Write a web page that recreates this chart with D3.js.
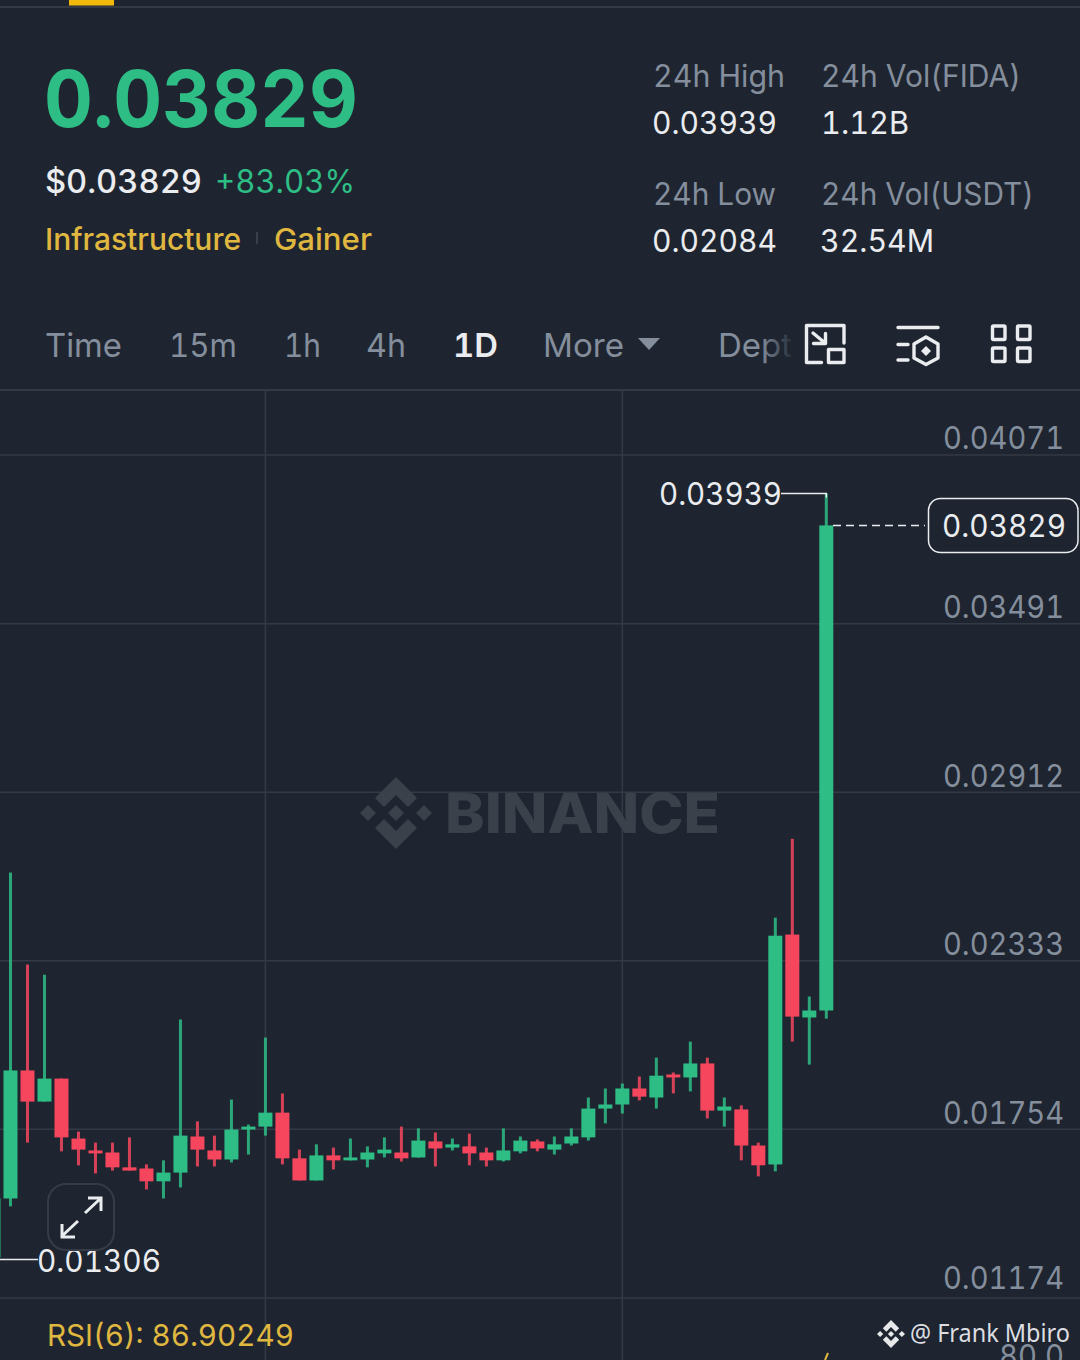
<!DOCTYPE html>
<html><head><meta charset="utf-8">
<script src="https://cdn.jsdelivr.net/npm/d3@7"></script>
<style>html,body{margin:0;padding:0;background:#1e2530}svg{display:block}text{font-family:Inter,sans-serif;font-variant-numeric:tabular-nums}</style>
</head><body><svg id="c" width="1080" height="1360"></svg>
<script>
const opens  = [.01314,.01516,.01956,.01849,.01928,.01722,.01681,.01674,.01623,.01619,.01575,.01605,.01729,.01681,.01650,.01753,.01763,.01811,.01654,.01578,.01664,.01647,.01650,.01671,.01674,.01657,.01712,.01691,.01695,.01674,.01647,.01678,.01712,.01684,.01705,.01726,.01825,.01839,.01894,.01863,.01942,.01932,.01980,.01818,.01822,.01698,.01633,.02423,.02138,.02162];
const closes = [.01516,.01956,.01849,.01928,.01726,.01684,.01671,.01623,.01612,.01575,.01605,.01732,.01684,.01650,.01753,.01763,.01811,.01654,.01578,.01664,.01647,.01657,.01674,.01684,.01654,.01715,.01688,.01702,.01671,.01647,.01681,.01715,.01688,.01702,.01729,.01825,.01839,.01894,.01866,.01938,.01932,.01980,.01818,.01832,.01698,.01630,.02419,.02141,.02162,.03829];
const highs  = [.01516,.02636,.02320,.02285,.01928,.01746,.01708,.01708,.01726,.01633,.01647,.02131,.01781,.01732,.01856,.01770,.02069,.01877,.01684,.01702,.01691,.01722,.01695,.01726,.01763,.01757,.01743,.01722,.01739,.01691,.01757,.01729,.01719,.01729,.01757,.01863,.01894,.01911,.01935,.02000,.01949,.02055,.02000,.01863,.01836,.01708,.02481,.02752,.02210,.03939];
const lows   = [.01306,.01489,.01708,.01849,.01678,.01630,.01602,.01612,.01612,.01547,.01516,.01554,.01626,.01626,.01640,.01667,.01732,.01633,.01578,.01578,.01616,.01647,.01623,.01657,.01643,.01657,.01626,.01681,.01630,.01626,.01643,.01671,.01678,.01667,.01698,.01715,.01774,.01808,.01853,.01825,.01877,.01884,.01791,.01763,.01647,.01592,.01609,.02055,.01976,.02134];
const yTicks = [.04071,.03491,.02912,.02333,.01754,.01174];
const xGrid  = [16,37];
const tabs   = ["Time","15m","1h","4h","1D","More"];
const tabX   = [45,169,284,366,453,543];
const tabW   = [77,68,37,40,45,81];

const GREEN="#2ebd85",RED="#f6465d",GRID="#333a45",GREY="#848e9c",WHITE="#eaecef",YEL="#e0b840",BG="#1e2530";
const svg=d3.select("#c");
svg.append("rect").attr("width",1080).attr("height",1360).attr("fill",BG);
const defs=svg.append("defs");
const g=defs.append("linearGradient").attr("id","fade").attr("gradientUnits","userSpaceOnUse").attr("x1",718).attr("x2",795).attr("y1",0).attr("y2",0);
g.append("stop").attr("offset","0").attr("stop-color",GREY);
g.append("stop").attr("offset","0.55").attr("stop-color",GREY);
g.append("stop").attr("offset","1").attr("stop-color",BG);

const x=d3.scaleLinear().domain([0,49]).range([-6.5,826.3]);
const y=d3.scaleLinear().domain([.01174,.04071]).range([1298,455]);
const T=(s,px,py,size,fill,weight,w)=>{const t=svg.append("text").text(s).attr("x",px).attr("y",py).attr("font-size",size).attr("fill",fill).attr("font-weight",weight||400);if(w)t.attr("textLength",w).attr("lengthAdjust","spacingAndGlyphs");return t;};

// frame lines
svg.append("line").attr("x1",0).attr("x2",1080).attr("y1",7).attr("y2",7).attr("stroke",GRID).attr("stroke-width",2);
svg.append("rect").attr("x",69).attr("y",0).attr("width",45).attr("height",5.5).attr("fill","#f0b90b");
svg.append("line").attr("x1",0).attr("x2",1080).attr("y1",390).attr("y2",390).attr("stroke",GRID).attr("stroke-width",2);

// header
T("0.03829",44,127,78,GREEN,700,314);
T("$0.03829",45,193,32,WHITE,500,157);
T("+83.03%",215,193,32,GREEN,400,140);
T("Infrastructure",45,250,30,YEL,500,196);
svg.append("rect").attr("x",256).attr("y",232).attr("width",2).attr("height",12).attr("fill","#3a4049");
T("Gainer",274,250,30,YEL,500,98);
[["24h High",653,87,GREY,132],["24h Vol(FIDA)",821,87,GREY,200],["0.03939",652,134,WHITE,125],["1.12B",821,134,WHITE,88],
 ["24h Low",653,205,GREY,123],["24h Vol(USDT)",821,205,GREY,213],["0.02084",652,252,WHITE,125],["32.54M",820,252,WHITE,114]]
 .forEach(d=>T(d[0],d[1],d[2],31,d[3],400,d[4]));

// tabs
tabs.forEach((s,i)=>T(s,tabX[i],357,33,s==="1D"?WHITE:GREY,s==="1D"?600:400,tabW[i]));
svg.append("path").attr("d","M638 338H660L649 350Z").attr("fill",GREY);
T("Dept",718,357,33,"url(#fade)",400);

// toolbar icons
const ic=svg.append("g").attr("fill","none").attr("stroke",WHITE).attr("stroke-width",3.4).attr("stroke-linejoin","round").attr("stroke-linecap","round");
ic.append("path").attr("d","M821.5 362.5H806.5V325.5H844V343");
ic.append("rect").attr("x",828.5).attr("y",349.5).attr("width",15.5).attr("height",13);
ic.append("path").attr("d","M813 333L825 343M813.5 343.5H825.5V333.5");
ic.append("path").attr("d","M898 327.5H938M898 344.5H908M898 360H908");
ic.append("path").attr("d","M926 337L938 344V358L926 364.5L914 358V344Z");
ic.append("path").attr("d","M926 346L931 351L926 356L921 351Z").attr("fill",WHITE).attr("stroke","none");
[[992.5,326],[1017.5,326],[992.5,348],[1017.5,348]].forEach(p=>ic.append("rect").attr("x",p[0]).attr("y",p[1]).attr("width",12.5).attr("height",13.5).attr("rx",1));

// grid
const gridH=svg.append("g");
yTicks.forEach(v=>gridH.append("line").attr("x1",0).attr("x2",1080).attr("y1",y(v)).attr("y2",y(v)).attr("stroke",GRID).attr("stroke-width",1.6));
xGrid.forEach(i=>gridH.append("line").attr("x1",x(i)).attr("x2",x(i)).attr("y1",391).attr("y2",1360).attr("stroke",GRID).attr("stroke-width",1.6));

// logo helper
function logo(cx,cy,r,fill){
  const k=r/36, gg=svg.append("g").attr("transform",`translate(${cx},${cy}) scale(${k})`).attr("fill",fill);
  gg.append("path").attr("d","M0 -36L21 -15L12 -6L0 -18L-12 -6L-21 -15Z");
  gg.append("path").attr("d","M0 36L21 15L12 6L0 18L-12 6L-21 15Z");
  gg.append("path").attr("d","M0 -8L8 0L0 8L-8 0Z");
  gg.append("path").attr("d","M-28 -8L-20 0L-28 8L-36 0Z");
  gg.append("path").attr("d","M28 -8L36 0L28 8L20 0Z");
}
logo(396,813,36,"#3a414b");
T("BINANCE",445,833,55,"#3a414b",800,275);

// candles
const cd=opens.map((o,i)=>({i,o,c:closes[i],h:highs[i],l:lows[i]}));
const cg=svg.append("g").selectAll("g").data(cd).join("g").attr("fill",d=>d.c>=d.o?GREEN:RED);
cg.append("rect").attr("x",d=>x(d.i)-1.5).attr("width",3).attr("y",d=>y(d.h)).attr("height",d=>y(d.l)-y(d.h)).attr("opacity",0.85);
cg.append("rect").attr("x",d=>x(d.i)-7).attr("width",14).attr("y",d=>y(Math.max(d.o,d.c))).attr("height",d=>Math.max(2,y(Math.min(d.o,d.c))-y(Math.max(d.o,d.c))));

// y axis
const axis=d3.axisRight(y).tickValues(yTicks).tickFormat(d3.format(".5f")).tickSize(0).tickPadding(0);
const ax=svg.append("g").attr("transform","translate(943,-16)").call(axis);
ax.select(".domain").remove();
ax.selectAll("text").attr("font-size",31).attr("fill",GREY).attr("font-family","Inter").attr("textLength",121).attr("lengthAdjust","spacingAndGlyphs");
ax.selectAll(".tick").filter(d=>d===d3.min(yTicks)).select("text").attr("y",-3);

// annotations
const hi=d3.max(highs), lo=d3.min(lows), last=closes[closes.length-1];
svg.append("path").attr("d",`M781 ${y(hi)}H${x(49)}V${y(hi)+4}`).attr("fill","none").attr("stroke",WHITE).attr("stroke-width",1.5);
T(d3.format(".5f")(hi),659,505,31,WHITE,400,123);
svg.append("line").attr("x1",0).attr("x2",38).attr("y1",y(lo)).attr("y2",y(lo)).attr("stroke",WHITE).attr("stroke-width",1.5);
T(d3.format(".5f")(lo),37,1272,31,WHITE,400,124);
svg.append("line").attr("x1",833).attr("x2",925).attr("y1",y(last)).attr("y2",y(last)).attr("stroke",WHITE).attr("stroke-width",1.5).attr("stroke-dasharray","8 5");
svg.append("rect").attr("x",928.5).attr("y",498.5).attr("width",149.5).attr("height",54).attr("rx",12).attr("fill",BG).attr("stroke",WHITE).attr("stroke-width",1.5);
T(d3.format(".5f")(last),942,537,31,WHITE,400,124);

// expand button
svg.append("rect").attr("x",48).attr("y",1184).attr("width",66).attr("height",66).attr("rx",18).attr("fill",BG).attr("fill-opacity",0.5).attr("stroke","#363c45").attr("stroke-width",2);
svg.append("path").attr("d","M85 1213L100 1199M88 1198H101V1211M78 1221L62 1236M62 1224V1237H75").attr("fill","none").attr("stroke",WHITE).attr("stroke-width",3);

// RSI pane
T("RSI(6): 86.90249",47,1346,30,YEL,400,247);
T("80.0",999,1367,31,GREY,400,65);
svg.append("line").attr("x1",828).attr("x2",825).attr("y1",1353).attr("y2",1360).attr("stroke",YEL).attr("stroke-width",2);
logo(891,1334,14,"#e6e8ea");
T("@ Frank Mbiro",910,1342,25,"#dcdee1",400,160).attr("font-family","Noto Sans").style("font-family","Noto Sans");
</script></body></html>
